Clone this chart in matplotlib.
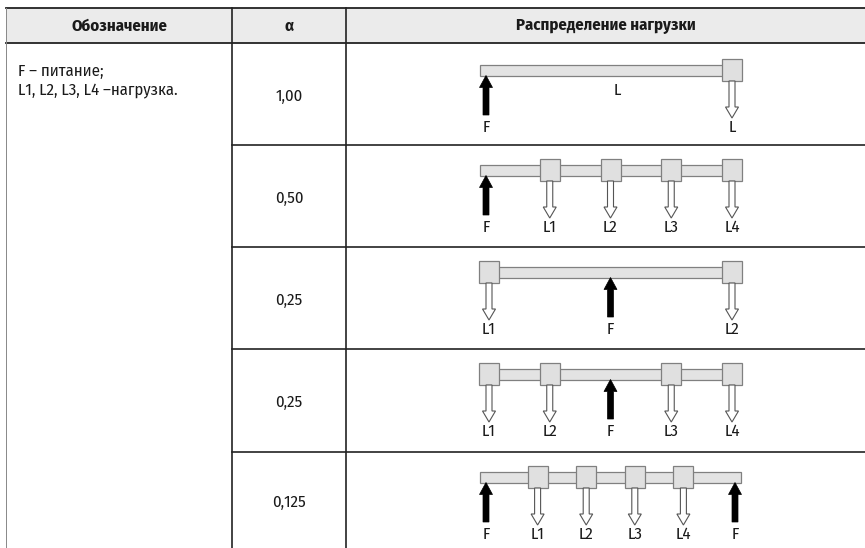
import matplotlib.pyplot as plt
from matplotlib.patches import Rectangle, Polygon

plt.rcParams['font.family'] = ['Fira Sans Condensed', 'DejaVu Sans']

# данные таблицы
headers = ['Обозначение', 'α', 'Распределение нагрузки']
legend_lines = ['F – питание;', 'L1, L2, L3, L4 –нагрузка.']
alpha_labels = ['1,00', '0,50', '0,25', '0,25', '0,125']
# положения нагрузок и питания вдоль линии (доля длины)
load_pos = [[1.0], [0.25, 0.5, 0.75, 1.0], [0.0, 1.0], [0.0, 0.25, 0.75, 1.0], [0.2, 0.4, 0.6, 0.8]]
load_names = [['L'], ['L1', 'L2', 'L3', 'L4'], ['L1', 'L2'], ['L1', 'L2', 'L3', 'L4'], ['L1', 'L2', 'L3', 'L4']]
feed_pos = [[0.0], [0.0], [0.5], [0.5], [0.0, 1.0]]
line_label = ['L', '', '', '', '']

W, H = 865, 548
fig = plt.figure(figsize=(W / 100, H / 100), dpi=100)
ax = fig.add_axes([0, 0, 1, 1])
ax.set_xlim(0, W)
ax.set_ylim(H, 0)
ax.axis('off')

dark = '#222222'
txt = '#1a1a1a'
fs = 12
x_left, x_c1, x_c2 = 6, 232, 346
y_top, y_head = 8, 43
row_edges = [43, 145, 247, 349, 452, 548]

# шапка
ax.add_patch(Rectangle((x_left, y_top), W - x_left, y_head - y_top, facecolor='#ebebeb', edgecolor='none'))
ax.plot([x_left, W], [y_top, y_top], color=dark, lw=1.3)
ax.plot([x_left, W], [y_head, y_head], color=dark, lw=1.3)
for xv in (x_c1, x_c2):
    ax.plot([xv, xv], [y_top, H], color=dark, lw=1.2)
ax.plot([x_left, x_left], [y_top, H], color='#888888', lw=0.7)
for yv in row_edges[1:-1]:
    ax.plot([x_c1, W], [yv, yv], color=dark, lw=1.2)

hx = [(x_left + x_c1) / 2, (x_c1 + x_c2) / 2, (x_c2 + W) / 2]
for x, h in zip(hx, headers):
    ax.text(x, (y_top + y_head) / 2 + 1, h, ha='center', va='center', fontsize=fs,
            fontweight='bold', color=txt)

ax.text(18, 71, legend_lines[0], ha='left', va='center', fontsize=fs, color=txt)
ax.text(18, 90, legend_lines[1], ha='left', va='center', fontsize=fs, color=txt)


def sx(s):
    return 489 + 243 * s


bar_fc, bar_ec = '#e3e3e3', '#808080'
for i in range(len(alpha_labels)):
    top, bot = row_edges[i], row_edges[i + 1]
    ax.text((x_c1 + x_c2) / 2, (top + bot) / 2 + 2, alpha_labels[i], ha='center', va='center',
            fontsize=fs, color=txt)
    yc = top + (27 if i == 0 else 25)
    # линия
    ax.add_patch(Rectangle((480, yc - 5.5), 261, 11, facecolor=bar_fc, edgecolor=bar_ec, lw=0.9, zorder=2))
    if line_label[i]:
        ax.text(sx(0.53), yc + 20, line_label[i], ha='center', va='center', fontsize=fs, color=txt)
    # нагрузки
    for s, name in zip(load_pos[i], load_names[i]):
        x = sx(s)
        ax.add_patch(Rectangle((x - 10, yc - 11), 20, 22, facecolor='#e0e0e0', edgecolor=bar_ec,
                               lw=0.9, zorder=3))
        y0, yt = yc + 11, yc + 48
        pts = [(x - 3, y0), (x - 3, yt - 11), (x - 6.5, yt - 11), (x, yt),
               (x + 6.5, yt - 11), (x + 3, yt - 11), (x + 3, y0)]
        ax.add_patch(Polygon(pts, closed=True, facecolor='white', edgecolor='#555555', lw=0.8, zorder=3))
        ax.text(x, yc + 57, name, ha='center', va='center', fontsize=fs, color=txt)
    # питание
    for s in feed_pos[i]:
        x = sx(s) + (-3 if s == 0 else (3 if s == 1 else 0))
        yt, yb = yc + 5.5, yc + 45
        pts = [(x - 3, yb), (x - 3, yt + 12), (x - 6.5, yt + 12), (x, yt),
               (x + 6.5, yt + 12), (x + 3, yt + 12), (x + 3, yb)]
        ax.add_patch(Polygon(pts, closed=True, facecolor='black', edgecolor='black', lw=0.5, zorder=4))
        ax.text(x, yc + 57, 'F', ha='center', va='center', fontsize=fs, color=txt)

fig.savefig('out.png', dpi=100)
